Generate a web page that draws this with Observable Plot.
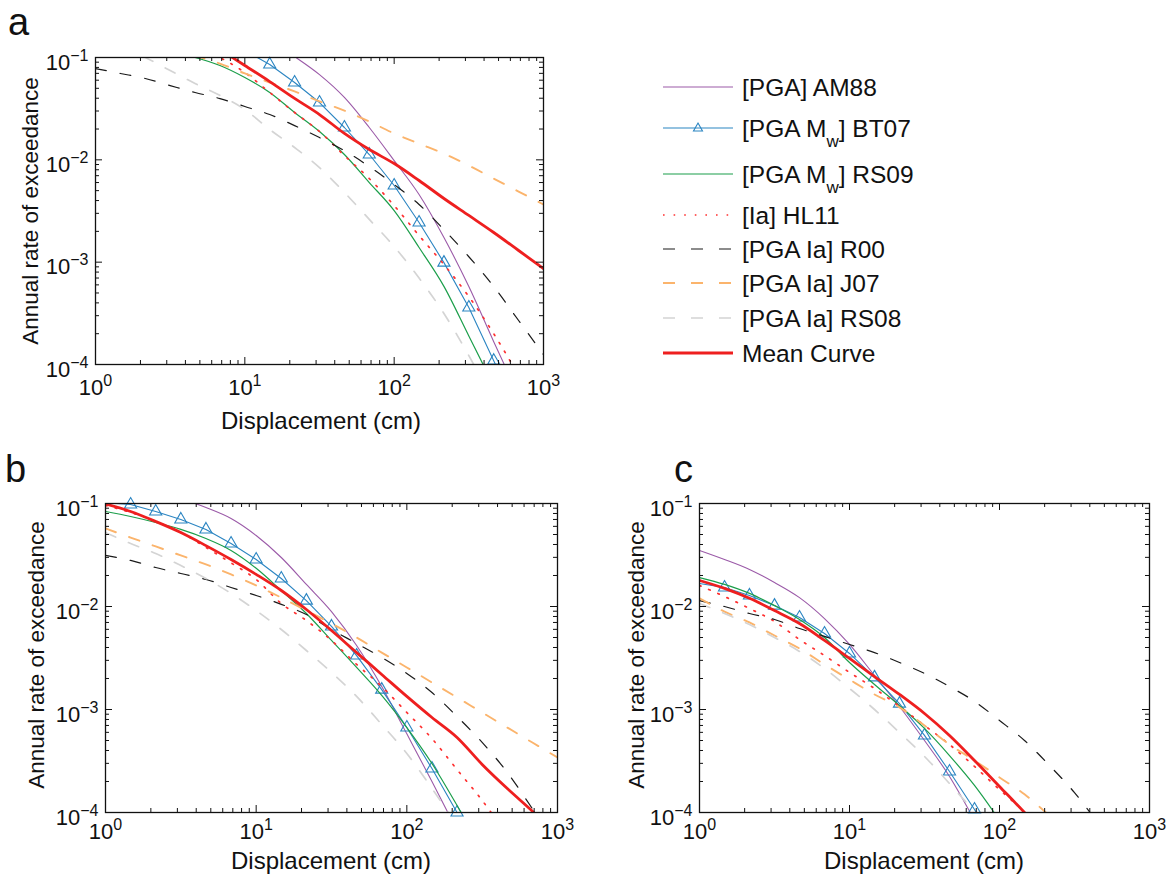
<!DOCTYPE html>
<html><head><meta charset="utf-8">
<script src="https://cdn.jsdelivr.net/npm/d3@7"></script>
<script src="https://cdn.jsdelivr.net/npm/@observablehq/plot@0.6"></script>
<style>
body{margin:0;background:#fff;}
#root{position:relative;width:1171px;height:883px;overflow:hidden;background:#fff;font-family:"Liberation Sans",Arial,Helvetica,sans-serif;}
.pan{position:absolute;}
#overlay{position:absolute;left:0;top:0;pointer-events:none;}
</style></head>
<body><div id="root"></div>
<script>
// ---------- data ----------
const xGrid = [1, 1.468, 2.154, 3.162, 4.642, 6.813, 10, 14.68, 21.54, 31.62, 46.42, 68.13, 100, 146.8, 215.4, 316.2, 464.2, 681.3, 1000];
const xTicks = [1, 10, 100, 1000];
const yTicks = [1e-4, 1e-3, 1e-2, 1e-1];
const seriesKeys = ["AM88", "BT07", "RS09", "HL11", "R00", "J07", "RS08", "Mean"];
const legendLabels = [["[PGA] AM88"], ["[PGA M", "w", "] BT07"], ["[PGA M", "w", "] RS09"], ["[Ia] HL11"], ["[PGA Ia] R00"], ["[PGA Ia] J07"], ["[PGA Ia] RS08"], ["Mean Curve"]];
const panelLetters = ["a", "b", "c"];
const xTitle = "Displacement (cm)";
const yTitle = "Annual rate of exceedance";

// panel a
const a_AM88 = [null, null, null, null, null, null, null, 0.147, 0.102, 0.068, 0.0407, 0.0207, 0.00984, 0.00458, 0.00174, 5.77e-4, 1.67e-4, 4.97e-5, null];
const a_BT07 = [null, null, null, null, null, null, 0.117, 0.0855, 0.057, 0.0363, 0.0207, 0.01127, 0.00561, 0.00244, 9.9e-4, 3.6e-4, 1.09e-4, 3.2e-5, null];
const a_RS09 = [null, null, null, 0.114, 0.1, 0.0835, 0.0637, 0.0455, 0.029, 0.0189, 0.01127, 0.006, 0.00319, 0.00139, 5.8e-4, 1.9e-4, 6.2e-5, null, null];
const a_HL11 = [null, null, null, null, 0.13, 0.1, 0.0713, 0.0455, 0.029, 0.0189, 0.011, 0.00656, 0.00357, 0.00182, 9.48e-4, 4.61e-4, 2.0e-4, 7.8e-5, null];
const a_R00 = [0.078, 0.0698, 0.0624, 0.0532, 0.0455, 0.0397, 0.0332, 0.0277, 0.0216, 0.0165, 0.0123, 0.0086, 0.00574, 0.00366, 0.00208, 0.00113, 5.78e-4, 2.69e-4, 1.25e-4];
const a_J07 = [null, null, null, 0.125, 0.104, 0.0873, 0.0698, 0.057, 0.0466, 0.0372, 0.0303, 0.0237, 0.0181, 0.0144, 0.0115, 0.0088, 0.00656, 0.0049, 0.00366];
const a_RS08 = [null, 0.13, 0.1, 0.0746, 0.0557, 0.0426, 0.031, 0.0198, 0.0132, 0.0084, 0.0048, 0.00262, 0.00142, 7.0e-4, 3.15e-4, 1.22e-4, 4.3e-5, null, null];
const a_Mean = [null, null, null, null, null, 0.12, 0.0835, 0.0582, 0.0398, 0.0277, 0.0181, 0.0126, 0.0092, 0.00628, 0.00419, 0.00286, 0.00195, 0.0013, 8.65e-4];

// panel b
const b_AM88 = [null, null, 0.134, 0.112, 0.0914, 0.0715, 0.0489, 0.0299, 0.0164, 0.00893, 0.00418, 0.00167, 5.8e-4, 2.0e-4, 6.7e-5, null, null, null, null];
const b_BT07 = [0.102, 0.0978, 0.0836, 0.07, 0.056, 0.0409, 0.0286, 0.0187, 0.0114, 0.0064, 0.00334, 0.00156, 6.68e-4, 2.67e-4, 1.0e-4, 3.4e-5, null, null, null];
const b_RS09 = [0.0836, 0.0748, 0.0654, 0.056, 0.0457, 0.035, 0.0235, 0.0143, 0.00855, 0.00468, 0.00256, 0.00137, 6.68e-4, 2.99e-4, 1.17e-4, 4.3e-5, null, null, null];
const b_HL11 = [0.0956, 0.0818, 0.0669, 0.0523, 0.0374, 0.0265, 0.0183, 0.0107, 0.00731, 0.00468, 0.00274, 0.00167, 9.35e-4, 5.22e-4, 2.61e-4, 1.31e-4, 6.0e-5, null, null];
const b_R00 = [0.0313, 0.028, 0.0239, 0.0209, 0.0183, 0.0153, 0.0128, 0.0105, 0.00836, 0.00598, 0.00438, 0.0032, 0.00224, 0.00146, 8.55e-4, 4.79e-4, 2.45e-4, 1.09e-4, 4.8e-5];
const b_J07 = [0.0572, 0.0467, 0.0383, 0.0313, 0.0256, 0.0205, 0.016, 0.0122, 0.00914, 0.00684, 0.005, 0.00357, 0.00256, 0.00183, 0.00131, 9.35e-4, 6.68e-4, 4.78e-4, 3.42e-4];
const b_RS08 = [0.0522, 0.0409, 0.0327, 0.025, 0.0187, 0.0134, 0.00914, 0.00598, 0.00374, 0.00229, 0.00134, 7.15e-4, 3.74e-4, 1.71e-4, 7.5e-5, null, null, null, null];
const b_Mean = [0.099, 0.0836, 0.0669, 0.0523, 0.039, 0.0286, 0.0205, 0.0143, 0.00935, 0.00585, 0.00357, 0.00219, 0.00134, 8.36e-4, 5.35e-4, 2.93e-4, 1.71e-4, 1.03e-4, 6.0e-5];

// panel c
const c_AM88 = [0.035, 0.0286, 0.0229, 0.0171, 0.0122, 0.00764, 0.00428, 0.00214, 0.00107, 5.0e-4, 2.24e-4, 8.4e-5, null, null, null, null, null, null, null];
const c_BT07 = [0.0167, 0.0153, 0.0128, 0.0102, 0.00782, 0.00547, 0.0035, 0.00205, 0.00114, 5.6e-4, 2.5e-4, 1.07e-4, 4.3e-5, null, null, null, null, null, null];
const c_RS09 = [0.0191, 0.0164, 0.0134, 0.0102, 0.00748, 0.005, 0.00286, 0.00175, 0.00109, 6.55e-4, 3.57e-4, 1.83e-4, 8.4e-5, null, null, null, null, null, null];
const c_HL11 = [0.016, 0.0125, 0.00957, 0.00715, 0.00478, 0.00334, 0.00229, 0.0016, 0.00107, 7.0e-4, 4.57e-4, 2.8e-4, 1.67e-4, 1.02e-4, 6.0e-5, null, null, null, null];
const c_R00 = [0.0114, 0.01, 0.00855, 0.00748, 0.00611, 0.00512, 0.00428, 0.00357, 0.00286, 0.00224, 0.00167, 0.0012, 7.82e-4, 5.0e-4, 2.86e-4, 1.56e-4, 7.5e-5, null, null];
const c_J07 = [0.012, 0.00893, 0.007, 0.00523, 0.00391, 0.00274, 0.00195, 0.0014, 0.00105, 7.0e-4, 4.57e-4, 3.2e-4, 2.19e-4, 1.5e-4, 9.3e-5, null, null, null, null];
const c_RS08 = [0.0107, 0.00855, 0.00668, 0.005, 0.00366, 0.0025, 0.0016, 0.001, 5.98e-4, 3.5e-4, 1.91e-4, 1.0e-4, 4.8e-5, null, null, null, null, null, null];
const c_Mean = [0.0179, 0.015, 0.012, 0.00914, 0.00684, 0.00468, 0.00313, 0.00209, 0.0014, 9.14e-4, 5.6e-4, 3.2e-4, 1.79e-4, 1.0e-4, 5.5e-5, null, null, null, null];

// ---------- styles ----------
const FONT = '"Liberation Sans", Arial, Helvetica, sans-serif';
const styles = {
  AM88: {stroke: "#9b5aa8", strokeWidth: 1.1},
  BT07: {stroke: "#2b85c2", strokeWidth: 1.1},
  RS09: {stroke: "#1b9e4a", strokeWidth: 1.2},
  HL11: {stroke: "#ff3030", strokeWidth: 1.7, strokeDasharray: "1.6,8.4"},
  R00: {stroke: "#1a1a1a", strokeWidth: 1.2, strokeDasharray: "11,14"},
  J07: {stroke: "#fbb46c", strokeWidth: 1.9, strokeDasharray: "11,14"},
  RS08: {stroke: "#d4d4d4", strokeWidth: 1.7, strokeDasharray: "11,14"},
  Mean: {stroke: "#ee1f1f", strokeWidth: 2.8}
};

const panels = [
  {data: {AM88: a_AM88, BT07: a_BT07, RS09: a_RS09, HL11: a_HL11, R00: a_R00, J07: a_J07, RS08: a_RS08, Mean: a_Mean},
   left: 0, top: 0, width: 560, height: 440, ml: 95, mt: 57, mr: 17, mb: 76, pad: 15},
  {data: {AM88: b_AM88, BT07: b_BT07, RS09: b_RS09, HL11: b_HL11, R00: b_R00, J07: b_J07, RS08: b_RS08, Mean: b_Mean},
   left: 0, top: 440, width: 600, height: 443, ml: 105, mt: 63, mr: 43, mb: 71, pad: 11},
  {data: {AM88: c_AM88, BT07: c_BT07, RS09: c_RS09, HL11: c_HL11, R00: c_R00, J07: c_J07, RS08: c_RS08, Mean: c_Mean},
   left: 600, top: 440, width: 571, height: 443, ml: 99, mt: 63, mr: 22, mb: 71, pad: 11}
];

const minorX = [];
for (const d of [1, 10, 100]) for (let m = 2; m <= 9; m++) minorX.push(d * m);
const minorY = [];
for (const d of [1e-4, 1e-3, 1e-2]) for (let m = 2; m <= 9; m++) minorY.push(d * m);

const fmt = d => "10^" + String(Math.round(Math.log10(d))).replace("-", "\u2212");

function makePanel(p) {
  const iw = p.width - p.ml - p.mr, ih = p.height - p.mt - p.mb;
  const marks = [];
  for (const key of seriesKeys) {
    const ys = p.data[key];
    const rows = xGrid.map((x, i) => ({x, y: ys[i]})).filter(d => d.y != null);
    marks.push(Plot.line(rows, {x: "x", y: "y", ...styles[key], curve: key === "BT07" ? "linear" : "monotone-x", clip: true}));
    if (key === "BT07") {
      marks.push(Plot.dot(rows.filter(d => d.x > 1 && d.y <= 0.1 && d.y >= 1e-4), {
        x: "x", y: "y", symbol: "triangle", r: 4.5, stroke: styles.BT07.stroke, strokeWidth: 1.1, fill: "none"
      }));
    }
  }
  const MJ = 7, MN = 4, tc = "#111";
  marks.push(
    Plot.frame({stroke: tc, strokeWidth: 1.3}),
    Plot.tickX(xTicks, {x: d => d, insetTop: ih - MJ, stroke: tc}),
    Plot.tickX(xTicks, {x: d => d, insetBottom: ih - MJ, stroke: tc}),
    Plot.tickX(minorX, {x: d => d, insetTop: ih - MN, stroke: tc}),
    Plot.tickX(minorX, {x: d => d, insetBottom: ih - MN, stroke: tc}),
    Plot.tickY(yTicks, {y: d => d, insetRight: iw - MJ, stroke: tc}),
    Plot.tickY(yTicks, {y: d => d, insetLeft: iw - MJ, stroke: tc}),
    Plot.tickY(minorY, {y: d => d, insetRight: iw - MN, stroke: tc}),
    Plot.tickY(minorY, {y: d => d, insetLeft: iw - MN, stroke: tc}),
    Plot.axisX({ticks: xTicks, tickSize: 0, tickPadding: p.pad, tickFormat: fmt, label: null}),
    Plot.axisY({ticks: yTicks, tickSize: 0, tickPadding: 7, tickFormat: fmt, label: null, dy: 5})
  );
  const svg = Plot.plot({
    width: p.width, height: p.height,
    marginLeft: p.ml, marginRight: p.mr, marginTop: p.mt, marginBottom: p.mb,
    x: {type: "log", domain: [1, 1000]},
    y: {type: "log", domain: [1e-4, 1e-1]},
    style: {fontFamily: FONT, fontSize: "22px", color: "#111", background: "transparent", overflow: "visible"},
    marks
  });
  svg.querySelectorAll('g[aria-label="x-axis tick label"] text, g[aria-label="y-axis tick label"] text').forEach(t => {
    const s = t.textContent;
    const parts = s.split("^");
    if (parts.length < 2) return;
    t.textContent = parts[0];
    const ts = document.createElementNS("http://www.w3.org/2000/svg", "tspan");
    ts.setAttribute("dy", "-9");
    ts.setAttribute("font-size", "16px");
    ts.textContent = parts[1];
    t.appendChild(ts);
  });
  svg.classList.add("pan");
  svg.style.left = p.left + "px";
  svg.style.top = p.top + "px";
  svg.style.position = "absolute";
  return svg;
}

const root = document.getElementById("root");
panels.forEach(p => root.appendChild(makePanel(p)));

// ---------- overlay: titles, letters, legend ----------
const NS = "http://www.w3.org/2000/svg";
const ov = document.createElementNS(NS, "svg");
ov.setAttribute("id", "overlay");
ov.setAttribute("width", 1171);
ov.setAttribute("height", 883);
ov.style.fontFamily = FONT;
root.appendChild(ov);

function txt(x, y, s, opts = {}) {
  const t = document.createElementNS(NS, "text");
  t.setAttribute("x", x); t.setAttribute("y", y);
  t.setAttribute("font-size", opts.size || 24);
  t.setAttribute("fill", "#111");
  if (opts.anchor) t.setAttribute("text-anchor", opts.anchor);
  if (opts.rotate) t.setAttribute("transform", `rotate(-90,${x},${y})`);
  t.textContent = s;
  ov.appendChild(t);
  return t;
}

// panel letters
const letterPos = [[8, 35], [5, 482], [674, 482]];
panelLetters.forEach((l, i) => txt(letterPos[i][0], letterPos[i][1], l, {size: 38}));

// axis titles
const xTitlePos = [[321, 429], [331, 869], [924, 869]];
const yTitlePos = [[38, 211], [44, 655], [644, 655]];
xTitlePos.forEach(([x, y]) => txt(x, y, xTitle, {size: 24, anchor: "middle"}));
yTitlePos.forEach(([x, y]) => txt(x, y, yTitle, {size: 22.5, anchor: "middle", rotate: true}));

// legend
const legRowY = [87, 128, 174, 215, 249, 283, 318, 353];
const legX0 = 663, legX1 = 733, legTextX = 742;
seriesKeys.forEach((key, i) => {
  const y = legRowY[i];
  const st = styles[key];
  const ln = document.createElementNS(NS, "line");
  ln.setAttribute("x1", legX0); ln.setAttribute("x2", legX1);
  ln.setAttribute("y1", y); ln.setAttribute("y2", y);
  ln.setAttribute("stroke", st.stroke);
  ln.setAttribute("stroke-width", st.strokeWidth);
  if (st.strokeDasharray) ln.setAttribute("stroke-dasharray", key === "HL11" ? "1.6,9" : "12,16");
  ov.appendChild(ln);
  if (key === "BT07") {
    const tri = document.createElementNS(NS, "path");
    const cx = (legX0 + legX1) / 2;
    tri.setAttribute("d", `M${cx},${y - 5}L${cx + 4.5},${y + 3}L${cx - 4.5},${y + 3}Z`);
    tri.setAttribute("fill", "none");
    tri.setAttribute("stroke", st.stroke);
    tri.setAttribute("stroke-width", 1.1);
    ov.appendChild(tri);
  }
  const parts = legendLabels[i];
  const t = txt(legTextX, y + 8.5, "", {size: 24.5});
  parts.forEach((s, j) => {
    const ts = document.createElementNS(NS, "tspan");
    ts.textContent = s;
    if (j === 1) { ts.setAttribute("dy", "10"); ts.setAttribute("font-size", "17"); }
    if (j === 2) { ts.setAttribute("dy", "-10"); }
    t.appendChild(ts);
  });
});
</script>
</body></html>
